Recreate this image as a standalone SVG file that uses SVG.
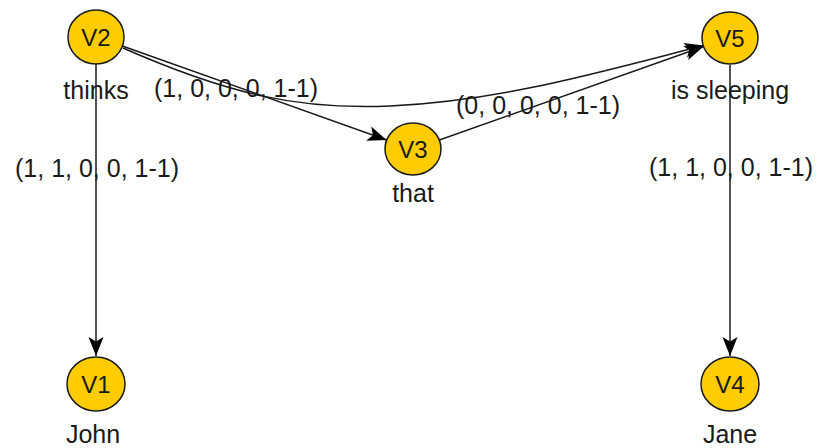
<svg xmlns="http://www.w3.org/2000/svg" width="816" height="448" viewBox="0 0 816 448">
<style>
.node ellipse{fill:#FFCC00;stroke:#1a1a1a;stroke-width:1.5}
.nt{font-family:"Liberation Sans",Arial,sans-serif;font-size:24px;fill:#1a1a1a;text-anchor:middle}
.lb{font-family:"Liberation Sans",Arial,sans-serif;font-size:25px;fill:#1a1a1a;text-anchor:middle}
.el{font-family:"Liberation Sans",Arial,sans-serif;font-size:25px;fill:#1a1a1a;text-anchor:middle}
.edge{fill:none;stroke:#1a1a1a;stroke-width:1.5;marker-end:url(#arr)}
</style>
<defs>
<marker id="arr" markerUnits="userSpaceOnUse" markerWidth="22" markerHeight="18" viewBox="0 0 22 18" refX="20" refY="9" orient="auto">
<path d="M1,1.5 L20,9 L1,16.5 L5.5,9 Z" fill="#000"/>
</marker>
</defs>
<rect width="816" height="448" fill="#fff"/>
<g id="connectors">
<path class="edge" d="M96,64 L96,356"/>
<path class="edge" d="M730,65 L730,356"/>
<path class="edge" d="M122.4,46 L386.6,140"/>
<path class="edge" d="M439.4,140 L703.6,46.5"/>
<path class="edge" d="M123,48 C230,95 300,110 390,106 C500,101 600,72 703.6,45.5"/>
<text class="el" x="236" y="97">(1, 0, 0, 0, 1-1)</text>
<text class="el" x="538" y="114">(0, 0, 0, 0, 1-1)</text>
<text class="el" x="97" y="177">(1, 1, 0, 0, 1-1)</text>
<text class="el" x="731" y="176">(1, 1, 0, 0, 1-1)</text>
</g>
<g id="V2" class="node"><ellipse cx="96" cy="37" rx="28" ry="27"/><text class="nt" x="96" y="46">V2</text><text class="lb" x="96" y="99">thinks</text></g>
<g id="V5" class="node"><ellipse cx="730" cy="38" rx="28" ry="26"/><text class="nt" x="730" y="47">V5</text><text class="lb" x="730" y="99">is sleeping</text></g>
<g id="V3" class="node"><ellipse cx="413" cy="149" rx="28" ry="26"/><text class="nt" x="413" y="158">V3</text><text class="lb" x="413" y="202">that</text></g>
<g id="V1" class="node"><ellipse cx="96" cy="384" rx="29" ry="27"/><text class="nt" x="96" y="393">V1</text><text class="lb" x="93" y="443">John</text></g>
<g id="V4" class="node"><ellipse cx="730" cy="384" rx="29" ry="27"/><text class="nt" x="730" y="393">V4</text><text class="lb" x="730" y="443">Jane</text></g>
</svg>
